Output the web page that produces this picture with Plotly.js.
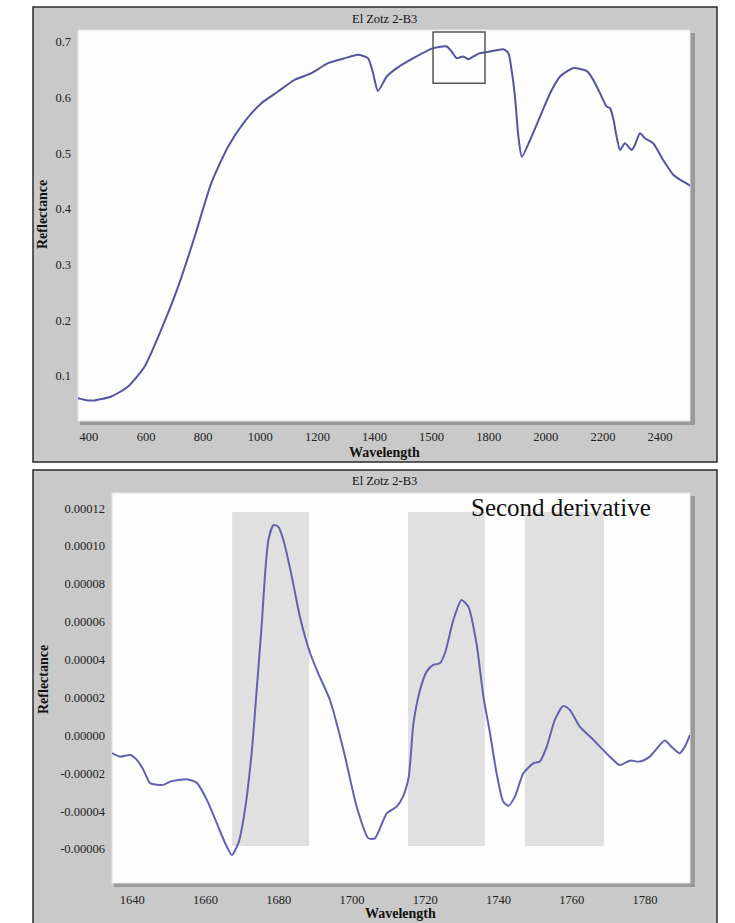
<!DOCTYPE html>
<html>
<head>
<meta charset="utf-8">
<script src="https://cdn.plot.ly/plotly-3.0.1.min.js"></script>
<style>
  html, body { margin: 0; padding: 0; background: #ffffff; }
  #chart { width: 735px; height: 923px; }
</style>
</head>
<body>
<div id="chart"></div>
<script>
// ---------- Data: full spectrum (top panel) ----------
const specWavelength = [361, 396, 420, 478, 537, 595, 653, 712, 770, 828, 887, 945, 1004, 1062, 1120, 1179, 1237, 1296, 1342, 1377, 1395, 1412, 1443, 1478, 1536, 1606, 1653, 1670, 1688, 1711, 1729, 1746, 1769, 1805, 1851, 1869, 1880, 1892, 1904, 1916, 1945, 1980, 2015, 2050, 2096, 2143, 2166, 2190, 2213, 2225, 2236, 2248, 2260, 2277, 2301, 2312, 2330, 2347, 2376, 2411, 2447, 2482, 2505];
const specReflectance = [0.060, 0.056, 0.056, 0.063, 0.081, 0.117, 0.183, 0.260, 0.350, 0.446, 0.512, 0.557, 0.590, 0.611, 0.632, 0.644, 0.662, 0.671, 0.677, 0.671, 0.644, 0.612, 0.638, 0.653, 0.671, 0.689, 0.692, 0.683, 0.671, 0.674, 0.669, 0.674, 0.680, 0.683, 0.687, 0.680, 0.650, 0.602, 0.530, 0.494, 0.524, 0.566, 0.608, 0.638, 0.653, 0.648, 0.632, 0.608, 0.584, 0.581, 0.563, 0.530, 0.506, 0.518, 0.506, 0.515, 0.536, 0.527, 0.518, 0.488, 0.461, 0.449, 0.442];
const specTickVals = [400, 600, 800, 1000, 1200, 1400, 1600, 1800, 2000, 2200, 2400];
const specTickText = ["400", "600", "800", "1000", "1200", "1400", "1500", "1800", "2000", "2200", "2400"];
const specYTickVals = [0.1, 0.2, 0.3, 0.4, 0.5, 0.6, 0.7];
const specYTickText = ["0.1", "0.2", "0.3", "0.4", "0.5", "0.6", "0.7"];
const zoomBoxX = [1605, 1787];
const zoomBoxY = [0.626, 0.718];

// ---------- Data: second derivative (bottom panel) ----------
const derivWavelength = [1634.5, 1636.7, 1639.5, 1641.3, 1643.1, 1644.9, 1648.5, 1650.4, 1654.9, 1657.6, 1660.4, 1663.1, 1665.4, 1667.2, 1669.0, 1670.8, 1672.7, 1674.0, 1675.4, 1676.3, 1677.2, 1678.6, 1679.9, 1681.3, 1683.6, 1685.8, 1688.6, 1690.8, 1694.0, 1697.7, 1701.3, 1704.5, 1706.3, 1709.5, 1712.2, 1714.0, 1715.5, 1716.8, 1718.6, 1720.4, 1722.2, 1724.0, 1725.4, 1727.7, 1729.9, 1731.8, 1734.0, 1735.9, 1737.7, 1739.5, 1741.3, 1742.7, 1744.5, 1746.8, 1749.5, 1751.3, 1753.2, 1755.4, 1757.7, 1759.5, 1762.2, 1765.0, 1767.7, 1770.4, 1773.1, 1775.9, 1778.6, 1781.3, 1785.4, 1787.2, 1789.5, 1790.9, 1792.3];
const derivValue = [-0.94e-5, -1.12e-5, -1.03e-5, -1.29e-5, -1.82e-5, -2.52e-5, -2.61e-5, -2.44e-5, -2.31e-5, -2.49e-5, -3.40e-5, -4.63e-5, -5.69e-5, -6.31e-5, -5.69e-5, -3.93e-5, -0.77e-5, 2.40e-5, 5.92e-5, 8.56e-5, 10.32e-5, 11.11e-5, 11.02e-5, 10.32e-5, 8.38e-5, 6.27e-5, 4.34e-5, 3.28e-5, 1.87e-5, -0.77e-5, -3.76e-5, -5.43e-5, -5.43e-5, -4.11e-5, -3.76e-5, -3.20e-5, -2.20e-5, 0.64e-5, 2.40e-5, 3.37e-5, 3.72e-5, 3.81e-5, 4.34e-5, 6.10e-5, 7.15e-5, 6.80e-5, 4.87e-5, 2.05e-5, 0.12e-5, -2.00e-5, -3.49e-5, -3.72e-5, -3.23e-5, -2.00e-5, -1.47e-5, -1.38e-5, -0.59e-5, 0.82e-5, 1.56e-5, 1.35e-5, 0.46e-5, -0.06e-5, -0.59e-5, -1.12e-5, -1.56e-5, -1.33e-5, -1.38e-5, -1.12e-5, -0.27e-5, -0.59e-5, -0.94e-5, -0.59e-5, 0.03e-5];
const derivTickVals = [1640, 1660, 1680, 1700, 1720, 1740, 1760, 1780];
const derivTickText = ["1640", "1660", "1680", "1700", "1720", "1740", "1760", "1780"];
const derivYTickVals = [0.00012, 0.00010, 0.00008, 0.00006, 0.00004, 0.00002, 0, -0.00002, -0.00004, -0.00006];
const derivYTickText = ["0.00012", "0.00010", "0.00008", "0.00006", "0.00004", "0.00002", "0.00000", "-0.00002", "-0.00004", "-0.00006"];
const bandStart = [1667.3, 1715.3, 1747.2];
const bandEnd = [1688.3, 1736.3, 1768.8];
const bandLow = -5.83e-5;
const bandHigh = 1.18e-4;

const chartTitle = "El Zotz 2-B3";
const yTitle = "Reflectance";
const xTitle = "Wavelength";
const noteText = "Second derivative";

// ---------- Layout helpers ----------
const W = 735, H = 923;
const px = v => v / W;
const py = v => 1 - v / H;
const serif = "'Liberation Serif', 'Times New Roman', serif";
const panelGray = "#c9c9c9";

const traces = [
  { x: specWavelength, y: specReflectance, xaxis: "x", yaxis: "y", type: "scatter", mode: "lines",
    line: { color: "#55559f", width: 2, shape: "spline", smoothing: 0.6 }, hoverinfo: "skip", showlegend: false },
  { x: derivWavelength, y: derivValue, xaxis: "x2", yaxis: "y2", type: "scatter", mode: "lines",
    line: { color: "#6262b0", width: 2, shape: "spline", smoothing: 0.6 }, hoverinfo: "skip", showlegend: false }
];

const shapes = [
  // panel backgrounds
  { type: "rect", xref: "paper", yref: "paper", x0: px(33), x1: px(717), y0: py(462), y1: py(7),
    fillcolor: panelGray, line: { color: "#2a2a2a", width: 1.5 }, layer: "below" },
  { type: "rect", xref: "paper", yref: "paper", x0: px(33), x1: px(717), y0: py(930), y1: py(470),
    fillcolor: panelGray, line: { color: "#2a2a2a", width: 1.5 }, layer: "below" },
  // plot-area shadows (top)
  { type: "rect", xref: "paper", yref: "paper", x0: px(690), x1: px(695), y0: py(425), y1: py(33),
    fillcolor: "#9a9a9a", line: { width: 0 }, layer: "below" },
  { type: "rect", xref: "paper", yref: "paper", x0: px(80), x1: px(695), y0: py(425), y1: py(421),
    fillcolor: "#9a9a9a", line: { width: 0 }, layer: "below" },
  // plot-area shadows (bottom)
  { type: "rect", xref: "paper", yref: "paper", x0: px(690), x1: px(695), y0: py(887), y1: py(496),
    fillcolor: "#9a9a9a", line: { width: 0 }, layer: "below" },
  { type: "rect", xref: "paper", yref: "paper", x0: px(114), x1: px(695), y0: py(887), y1: py(883),
    fillcolor: "#9a9a9a", line: { width: 0 }, layer: "below" },
  // white plotting areas
  { type: "rect", xref: "paper", yref: "paper", x0: px(78), x1: px(690), y0: py(421), y1: py(30),
    fillcolor: "#fdfdfd", line: { color: "#e6e6e6", width: 1 }, layer: "below" },
  { type: "rect", xref: "paper", yref: "paper", x0: px(112), x1: px(690), y0: py(883), y1: py(493),
    fillcolor: "#fdfdfd", line: { color: "#e6e6e6", width: 1 }, layer: "below" },
  // zoom box on the full spectrum
  { type: "rect", xref: "x", yref: "y", x0: zoomBoxX[0], x1: zoomBoxX[1], y0: zoomBoxY[0], y1: zoomBoxY[1],
    line: { color: "#555555", width: 1.5 }, fillcolor: "rgba(0,0,0,0)", layer: "above" }
];
bandStart.forEach((s, i) => {
  shapes.push({ type: "rect", xref: "x2", yref: "y2", x0: s, x1: bandEnd[i], y0: bandLow, y1: bandHigh,
    fillcolor: "#e0e0e0", line: { width: 0 }, layer: "below" });
});

const tickFont = { family: serif, size: 12.5, color: "#222222" };
const titleFont = { family: serif, size: 12.5, color: "#111111" };
const boldFont = { family: serif, size: 14, color: "#111111" };

const annotations = [
  { text: chartTitle, xref: "paper", yref: "paper", x: px(384), y: py(19), showarrow: false, font: titleFont, xanchor: "center", yanchor: "middle" },
  { text: "<b>" + xTitle + "</b>", xref: "paper", yref: "paper", x: px(384), y: py(452), showarrow: false, font: boldFont, xanchor: "center", yanchor: "middle" },
  { text: "<b>" + yTitle + "</b>", xref: "paper", yref: "paper", x: px(43), y: py(215), textangle: -90, showarrow: false, font: boldFont, xanchor: "center", yanchor: "middle" },
  { text: chartTitle, xref: "paper", yref: "paper", x: px(384), y: py(481), showarrow: false, font: titleFont, xanchor: "center", yanchor: "middle" },
  { text: "<b>" + xTitle + "</b>", xref: "paper", yref: "paper", x: px(400), y: py(913), showarrow: false, font: boldFont, xanchor: "center", yanchor: "middle" },
  { text: "<b>" + yTitle + "</b>", xref: "paper", yref: "paper", x: px(43), y: py(680), textangle: -90, showarrow: false, font: boldFont, xanchor: "center", yanchor: "middle" },
  { text: noteText, xref: "paper", yref: "paper", x: px(561), y: py(507), showarrow: false, font: { family: serif, size: 25, color: "#111111" }, xanchor: "center", yanchor: "middle" }
];

const layout = {
  width: W, height: H,
  margin: { l: 0, r: 0, t: 0, b: 0 },
  paper_bgcolor: "#ffffff",
  plot_bgcolor: "rgba(0,0,0,0)",
  showlegend: false,
  xaxis: { domain: [px(78), px(690)], range: [361.5, 2505], tickvals: specTickVals, ticktext: specTickText,
    showgrid: false, zeroline: false, showline: false, ticks: "", tickfont: tickFont, anchor: "y", fixedrange: true, ticklabelstandoff: 6 },
  yaxis: { domain: [py(421), py(30)], range: [0.019, 0.7216], tickvals: specYTickVals, ticktext: specYTickText,
    showgrid: false, zeroline: false, showline: false, ticks: "", tickfont: tickFont, anchor: "x", fixedrange: true, ticklabelstandoff: 6 },
  xaxis2: { domain: [px(112), px(690)], range: [1634.5, 1792.3], tickvals: derivTickVals, ticktext: derivTickText,
    showgrid: false, zeroline: false, showline: false, ticks: "", tickfont: tickFont, anchor: "y2", fixedrange: true, ticklabelstandoff: 7 },
  yaxis2: { domain: [py(883), py(493)], range: [-7.79e-5, 1.28e-4], tickvals: derivYTickVals, ticktext: derivYTickText,
    showgrid: false, zeroline: false, showline: false, ticks: "", tickfont: tickFont, anchor: "x2", fixedrange: true, ticklabelstandoff: 6 },
  shapes: shapes,
  annotations: annotations
};

Plotly.newPlot("chart", traces, layout, { staticPlot: true, displayModeBar: false });
</script>
</body>
</html>
